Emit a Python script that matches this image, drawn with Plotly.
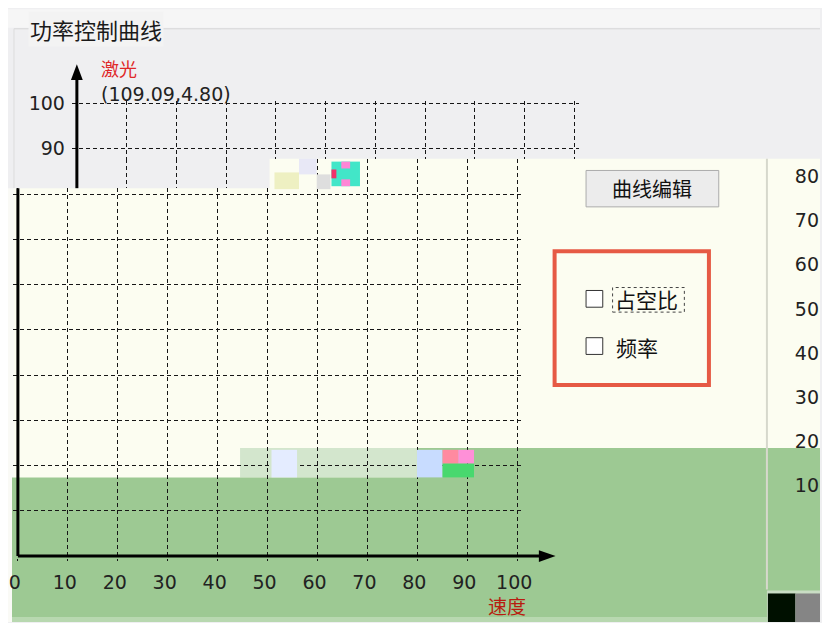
import plotly.graph_objects as go

# the page body keeps an 8px margin, so the figure is made 8px smaller
# and all pixel positions below are measured in the 830x623 window
OFF = 8
W, H = 830 - OFF, 623 - OFF

# axis values
x_ticks = [0, 10, 20, 30, 40, 50, 60, 70, 80, 90, 100]
x_labels = [str(v) for v in x_ticks]
y_grid = [10, 20, 30, 40, 50, 60, 70, 80, 90, 100]
y_upper_labels = [90, 100]
right_labels = [80, 70, 60, 50, 40, 30, 20, 10]
readout = (109.09, 4.80)

title = "功率控制曲线"
y_name = "激光"
x_name = "速度"
button_text = "曲线编辑"
check_texts = ["占空比", "频率"]

CREAM = "#fcfdf1"
GRAY = "#efeff1"
GREEN = "#9dc993"
GRID = "#161616"
FONT = "DejaVu Sans"
CJK = "Noto Sans CJK SC"


def fx(px):
    return (px - OFF) / W


def fy(py):
    return 1 - (py - OFF) / H


def xspan(px0, scale, vmin, vmax):
    return dict(domain=[fx(px0 + vmin * scale), fx(px0 + vmax * scale)], range=[vmin, vmax])


def yspan(py0, scale, vmin, vmax):
    return dict(domain=[fy(py0 - vmin * scale), fy(py0 - vmax * scale)], range=[vmin, vmax])


# pixel geometry of the (glitched) chart: lower part and upper part shifted right
XS_LOW, X0_LOW = 5.08, 14
XS_UP, X0_UP = 5.06, 74
YS, Y0 = 4.6, 556
cut_a = (Y0 - 182) / YS   # y value at the upper edge of the lower block
cut_b = (Y0 - 152) / YS   # y value at the step of the glitch
x_cut_low = (270 - X0_LOW) / XS_LOW
x_cut_up = (270 - X0_UP) / XS_UP

fig = go.Figure()
for n in ["", "2", "3", "4"]:
    fig.add_trace(go.Scatter(x=[], y=[], xaxis="x" + n, yaxis="y" + n, showlegend=False))
fig.add_trace(go.Scatter(x=[], y=[], xaxis="x5", yaxis="y5", showlegend=False))

grid_x = dict(showgrid=True, gridcolor=GRID, gridwidth=1, griddash="4px,3px", tickvals=x_ticks,
              zeroline=False, showline=False, ticks="", showticklabels=False, fixedrange=True)
grid_y = dict(showgrid=True, gridcolor=GRID, gridwidth=1, griddash="4px,3px", tickvals=y_grid,
              zeroline=False, showline=False, ticks="", showticklabels=False, fixedrange=True)

tick_font = dict(family=FONT, size=19, color="#222")

fig.update_layout(
    # lower block
    xaxis=dict(**grid_x, **xspan(X0_LOW, XS_LOW, -1, 101), anchor="y"),
    yaxis=dict(**grid_y, **yspan(Y0, YS, -1, cut_a), anchor="x"),
    # lower block, strip right of the step
    xaxis2=dict(**grid_x, **xspan(X0_LOW, XS_LOW, x_cut_low, 101), anchor="y2"),
    yaxis2=dict(**grid_y, **yspan(Y0, YS, cut_a, cut_b), anchor="x2"),
    # upper block (shifted)
    xaxis3=dict(**grid_x, **xspan(X0_UP, XS_UP, -1, 101), anchor="y3"),
    yaxis3=dict(**grid_y, **yspan(Y0, YS, cut_b, 100.6), anchor="x3"),
    # upper block, strip left of the step
    xaxis4=dict(**grid_x, **xspan(X0_UP, XS_UP, -1, x_cut_up), anchor="y4"),
    yaxis4=dict(**grid_y, **yspan(Y0, YS, cut_a, cut_b), anchor="x4"),
    xaxis5=dict(visible=False, domain=[fx(780), fx(829)], range=[0, 1], fixedrange=True),
    yaxis5=dict(**yspan(529, 4.486, 0, (529 - 152) / 4.486), anchor="free", position=1.0,
                side="left", tickvals=right_labels, showgrid=False, zeroline=False, ticks="",
                showline=False, tickfont=tick_font, ticklabelstandoff=1, fixedrange=True),
)
fig.layout.xaxis.update(showticklabels=True, ticktext=x_labels, tickfont=tick_font,
                        ticklabelstandoff=8, ticklabelshift=-3, ticklabeloverflow="allow")
fig.layout.yaxis3.update(showticklabels=True, tickvals=y_upper_labels, tickfont=tick_font,
                         ticklabelstandoff=6)


def rect(x0, y0, x1, y1, fill, line=None, width=0, layer="below", dash=None):
    ln = dict(width=width, color=line or fill)
    if dash:
        ln["dash"] = dash
    return dict(type="rect", xref="paper", yref="paper", x0=fx(x0), x1=fx(x1),
                y0=fy(y1), y1=fy(y0), fillcolor=fill, line=ln, layer=layer)


def path(pts, fill, layer="below"):
    d = "M " + " L ".join(f"{fx(a):.5f},{fy(b):.5f}" for a, b in pts) + " Z"
    return dict(type="path", xref="paper", yref="paper", path=d, fillcolor=fill,
                line=dict(width=0), layer=layer)


def seg(x0, y0, x1, y1, color, width, layer="above"):
    return dict(type="line", xref="paper", yref="paper", x0=fx(x0), y0=fy(y0), x1=fx(x1), y1=fy(y1),
                line=dict(color=color, width=width), layer=layer)


shapes = [
    rect(0, 0, 830, 19, "#f6f6f6"),
    seg(10, 20, 830, 20, "#d6d6d6", 1, layer="below"),
    seg(10, 20, 10, 182, "#dcdcdc", 1, layer="below"),
    path([(10, 182), (270, 182), (270, 152), (830, 152), (830, 623), (10, 623)], CREAM),
    rect(0, 182, 10, 623, "#fafaf6"),
    rect(240, 446, 420, 476, "#d3e6cd"),
    path([(8, 476), (420, 476), (420, 446), (830, 446), (830, 618), (8, 618)], GREEN),
    rect(8, 618, 830, 623, "#b8d8b0"),
    seg(776, 152, 776, 590, "#d6d8cc", 2, layer="below"),
    rect(776, 591, 830, 623, "#c9ddc4"),
    rect(777, 594, 805, 623, "#001000"),
    rect(805, 594, 830, 623, "#858585"),
    # glitch blocks
    rect(275, 166, 300, 183, "#eef0c2", layer="above"),
    rect(300, 152, 318, 168, "#e8e8f6", layer="above"),
    rect(318, 168, 332, 183, "#dedede", layer="above"),
    rect(333, 155, 362, 180, "#42e6c8", layer="above"),
    rect(343, 155, 352, 162, "#ff86d6", layer="above"),
    rect(343, 173, 352, 180, "#ff86d6", layer="above"),
    rect(333, 163, 338, 172, "#f0306a", layer="above"),
    rect(272, 448, 298, 476, "#e4ecff", layer="above"),
    rect(420, 448, 446, 476, "#c8dcff", layer="above"),
    rect(446, 448, 462, 462, "#ff8aa0", layer="above"),
    rect(462, 448, 478, 462, "#ff90d8", layer="above"),
    rect(446, 462, 478, 476, "#48d86e", layer="above"),
    # axes with arrows
    seg(X0_LOW, 182, X0_LOW, Y0, "#000", 3),
    seg(X0_LOW, Y0, 546, Y0, "#000", 3),
    path([(544, 550), (561, Y0), (544, 562)], "#000", layer="above"),
    seg(X0_UP, 182, X0_UP, 72, "#000", 3),
    path([(68, 72), (X0_UP, 56), (80, 72)], "#000", layer="above"),
    # right panel controls
    rect(592, 164, 727, 201, "#ececec", "#ababab", 1, layer="above"),
    rect(560, 246, 717, 382, "rgba(0,0,0,0)", "#e65a45", 4, layer="above"),
    rect(592, 286, 609, 303, "#ffffff", "#333333", 1, layer="above"),
    rect(592, 334, 609, 351, "#ffffff", "#333333", 1, layer="above"),
    rect(619, 283, 692, 308, "rgba(0,0,0,0)", "#444444", 1, layer="above", dash="dot"),
]

annotations = [
    dict(x=fx(24), y=fy(20), text=title, xanchor="left", yanchor="middle", bgcolor="#f3f3f3",
         font=dict(family=CJK, size=22, color="#1a1a1a")),
    dict(x=fx(96), y=fy(60), text=y_name, xanchor="left", yanchor="middle",
         font=dict(family=CJK, size=18, color="#e02828")),
    dict(x=fx(97), y=fy(86), text=f"({readout[0]:.2f},{readout[1]:.2f})", xanchor="left",
         yanchor="middle", font=dict(family=FONT, size=19, color="#222")),
    dict(x=fx(512), y=fy(606), text=x_name, xanchor="center", yanchor="middle",
         font=dict(family=CJK, size=19, color="#b81c10")),
    dict(x=fx(659), y=fy(182), text=button_text, xanchor="center", yanchor="middle",
         font=dict(family=CJK, size=20, color="#111")),
    dict(x=fx(619), y=fy(295), text=check_texts[0], xanchor="left", yanchor="middle",
         font=dict(family=CJK, size=21, color="#111")),
    dict(x=fx(620), y=fy(343), text=check_texts[1], xanchor="left", yanchor="middle",
         font=dict(family=CJK, size=21, color="#111")),
]
for a in annotations:
    a.update(xref="paper", yref="paper", showarrow=False)

fig.update_layout(
    width=W, height=H, margin=dict(l=0, r=0, t=0, b=0),
    paper_bgcolor=GRAY, plot_bgcolor="rgba(0,0,0,0)",
    shapes=shapes, annotations=annotations, showlegend=False,
)

fig.write_html("out.html")
